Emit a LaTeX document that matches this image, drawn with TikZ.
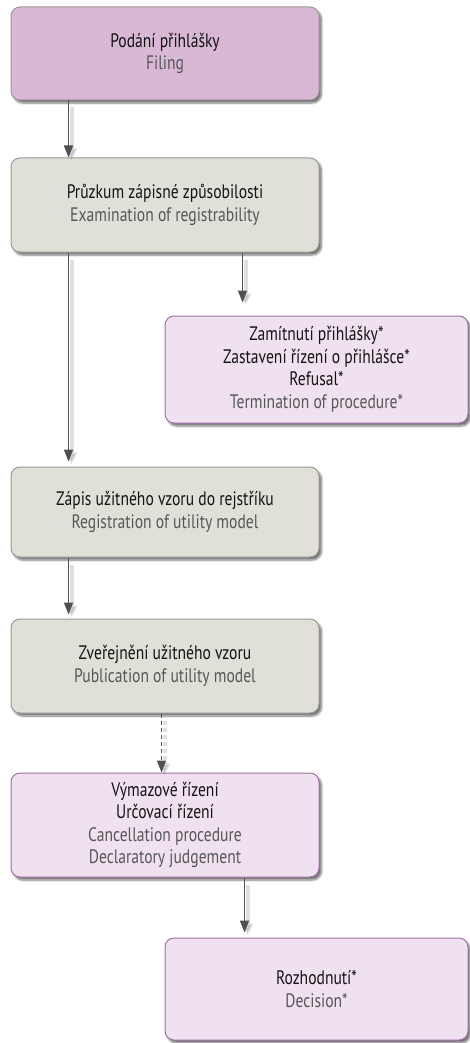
\documentclass[tikz,border=0pt]{standalone}
\usepackage{fontspec}
\setmainfont{PT Sans}[FakeStretch=0.8]
\usetikzlibrary{calc,arrows.meta,shadows.blur}
\definecolor{pinkA}{HTML}{D9B8D6}
\definecolor{pinkB}{HTML}{EFE1EF}
\definecolor{grayA}{HTML}{E0DFD8}
\definecolor{edgeGray}{HTML}{9C9896}
\definecolor{edgePurple}{HTML}{A070A6}
\definecolor{txtGray}{HTML}{575757}
\definecolor{txtBlack}{HTML}{141414}
\definecolor{arrGray}{HTML}{505050}
\tikzset{
  x=1pt, y=-1pt,
  boxbase/.style={rounded corners=9pt, line width=1pt, align=center, inner sep=0pt,
    text=txtBlack, font=\fontsize{19.5}{22.5}\selectfont,
    blur shadow={shadow xshift=2.5pt, shadow yshift=-3pt, shadow blur steps=6, shadow opacity=55}},
  stagebox/.style={boxbase, fill=pinkA, draw=edgeGray},
  grbox/.style={boxbase, fill=grayA, draw=edgeGray},
  outbox/.style={boxbase, fill=pinkB, draw=edgePurple},
  arr/.style={draw=arrGray, line width=1.6pt, -{Triangle[width=9pt,length=12pt]}},
  arrsh/.style={draw=black, opacity=0.12, line width=4pt, -{Triangle[width=11pt,length=12pt]},
    transform canvas={shift={(3pt,-3pt)}}}
}
\begin{document}
\begin{tikzpicture}
\useasboundingbox (0,0) rectangle (469,1043);
\node[stagebox, minimum width=308pt, minimum height=93pt] (filing) at (165,53.5)
  {Podání přihlášky\\\textcolor{txtGray}{Filing}};
\node[grbox, minimum width=308pt, minimum height=94pt] (exam) at (165,205)
  {Průzkum zápisné způsobilosti\\\textcolor{txtGray}{Examination of registrability}};
\node[outbox, minimum width=303pt, minimum height=107pt] (refusal) at (316.5,369.5)
  {Zamítnutí přihlášky*\\Zastavení řízení o přihlášce*\\Refusal*\\\textcolor{txtGray}{Termination of procedure*}};
\node[grbox, minimum width=308pt, minimum height=90pt] (reg) at (165,512)
  {Zápis užitného vzoru do rejstříku\\\textcolor{txtGray}{Registration of utility model}};
\node[grbox, minimum width=308pt, minimum height=94pt] (pub) at (165,666)
  {Zveřejnění užitného vzoru\\\textcolor{txtGray}{Publication of utility model}};
\node[outbox, minimum width=308pt, minimum height=104pt] (canc) at (165,825)
  {Výmazové řízení\\Určovací řízení\\\textcolor{txtGray}{Cancellation procedure}\\\textcolor{txtGray}{Declaratory judgement}};
\node[outbox, minimum width=303pt, minimum height=102pt] (dec) at (316.5,989)
  {Rozhodnutí*\\\textcolor{txtGray}{Decision*}};

\begin{scope}
\draw[arrsh, shorten <=4pt] ($(filing.south west)+(58,0)$) -- ($(exam.north west)+(58,0)$);
\draw[arrsh, shorten <=4pt, shorten >=13pt] ($(exam.south west)+(232,0)$) -- ($(refusal.north west)+(78,0)$);
\draw[arrsh, shorten <=4pt, shorten >=5pt] ($(exam.south west)+(58,0)$) -- ($(reg.north west)+(58,0)$);
\draw[arrsh, shorten <=4pt, shorten >=4pt] ($(reg.south west)+(58,0)$) -- ($(pub.north west)+(58,0)$);
\draw[arrsh, shorten <=4pt, dash pattern=on 4pt off 3pt] ($(pub.south west)+(151,0)$) -- ($(canc.north west)+(151,0)$);
\draw[arrsh, shorten <=4pt, shorten >=5pt] ($(canc.south west)+(234,0)$) -- ($(dec.north west)+(80,0)$);
\end{scope}

\draw[arr] ($(filing.south west)+(58,0)$) -- ($(exam.north west)+(58,0)$);
\draw[arr, shorten >=13pt] ($(exam.south west)+(232,0)$) -- ($(refusal.north west)+(78,0)$);
\draw[arr, shorten >=5pt] ($(exam.south west)+(58,0)$) -- ($(reg.north west)+(58,0)$);
\draw[arr, shorten >=4pt] ($(reg.south west)+(58,0)$) -- ($(pub.north west)+(58,0)$);
\draw[arr, dash pattern=on 4pt off 3pt] ($(pub.south west)+(151,0)$) -- ($(canc.north west)+(151,0)$);
\draw[arr, shorten >=5pt] ($(canc.south west)+(234,0)$) -- ($(dec.north west)+(80,0)$);
\end{tikzpicture}
\end{document}
